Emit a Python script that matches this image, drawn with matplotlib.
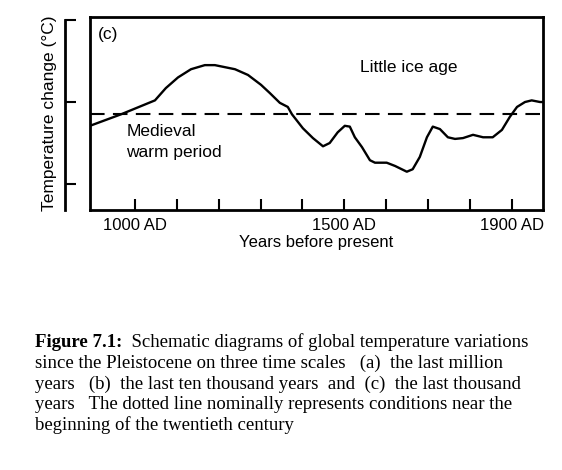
import matplotlib
matplotlib.use("Agg")
import matplotlib.pyplot as plt

# schematic temperature curve, last thousand years
years = [893, 967, 1048, 1074, 1103, 1134, 1167, 1191, 1239, 1270, 1301, 1322,
         1334, 1346, 1365, 1375, 1401, 1425, 1449, 1465, 1484, 1501, 1513, 1525,
         1542, 1561, 1573, 1601, 1621, 1649, 1663, 1680, 1697, 1711, 1728, 1747,
         1764, 1783, 1807, 1831, 1854, 1876, 1895, 1912, 1931, 1947, 1967, 1974]
temps = [-0.29, -0.15, 0.02, 0.17, 0.30, 0.40, 0.45, 0.45, 0.40, 0.33, 0.21, 0.11,
         0.05, -0.01, -0.06, -0.15, -0.32, -0.44, -0.54, -0.50, -0.37, -0.29, -0.30, -0.43,
         -0.55, -0.71, -0.74, -0.74, -0.78, -0.85, -0.82, -0.67, -0.43, -0.30, -0.33, -0.43,
         -0.45, -0.44, -0.40, -0.43, -0.43, -0.34, -0.18, -0.06, 0.00, 0.02, 0.00, 0.00]
reference_level = -0.146

x_ticks = [1000, 1100, 1200, 1300, 1400, 1500, 1600, 1700, 1800, 1900]
x_labels = {1000: "1000 AD", 1500: "1500 AD", 1900: "1900 AD"}
y_ticks = [-1, 0, 1]

caption_head = "Figure 7.1:"
caption_first = "  Schematic diagrams of global temperature variations"
caption_lines = [
    "since the Pleistocene on three time scales   (a)  the last million",
    "years   (b)  the last ten thousand years  and  (c)  the last thousand",
    "years   The dotted line nominally represents conditions near the",
    "beginning of the twentieth century",
]

W, H = 562, 470
fig = plt.figure(figsize=(W / 100, H / 100), dpi=100)
sans = "Liberation Sans"
serif = "Liberation Serif"


def px_box(x0, y0, x1, y1):
    return [x0 / W, 1 - y1 / H, (x1 - x0) / W, (y1 - y0) / H]


ylim = (-1.317, 1.037)

ax = fig.add_axes(px_box(90, 17, 543, 210))
ax.plot(years, temps, color="black", lw=1.7, solid_joinstyle="round")
ax.axhline(reference_level, color="black", lw=1.5, dashes=(7, 4))
ax.set_xlim(893, 1974)
ax.set_ylim(*ylim)
for s in ax.spines.values():
    s.set_linewidth(2)
ax.set_xticks(x_ticks)
ax.set_xticklabels([x_labels.get(t, "") for t in x_ticks], fontsize=12, family=sans)
ax.tick_params(axis="x", direction="in", length=8, width=1.5, pad=6)
ax.set_yticks([])
ax.set_xlabel("Years before present", fontsize=12, family=sans, labelpad=1)

fig.text(98 / W, 1 - 35 / H, "(c)", fontsize=12.5, family=sans, va="center")
ax.text(1537, 0.42, "Little ice age", fontsize=12.5, family=sans, va="center")
ax.text(980, -0.27, "Medieval\nwarm period", fontsize=12.5, family=sans,
        va="top", linespacing=1.45)

# separate temperature axis on the left
ay = fig.add_axes(px_box(65, 17, 66, 210))
ay.set_ylim(*ylim)
for k in ("top", "right", "bottom"):
    ay.spines[k].set_visible(False)
ay.spines["left"].set_linewidth(2)
ay.spines["left"].set_bounds(ylim[0], 1)
ay.set_xticks([])
ay.set_yticks(y_ticks)
ay.set_yticklabels([])
ay.tick_params(axis="y", direction="in", length=8, width=1.5)
ay.patch.set_visible(False)
ay.set_ylabel("Temperature change (°C)", fontsize=12.5, family=sans, labelpad=2)

# caption
cap_size = 13.5
bold = fig.text(35 / W, 1 - 347 / H, caption_head, fontsize=cap_size, family=serif,
                weight="bold", va="baseline")
ax.annotate(caption_first, xy=(1, 0), xycoords=bold, va="bottom", ha="left",
            fontsize=cap_size, family=serif, annotation_clip=False)
for i, line in enumerate(caption_lines):
    fig.text(35 / W, 1 - (368 + 20.5 * i) / H, line, fontsize=cap_size, family=serif,
             va="baseline")

fig.savefig("out.png", dpi=100)
